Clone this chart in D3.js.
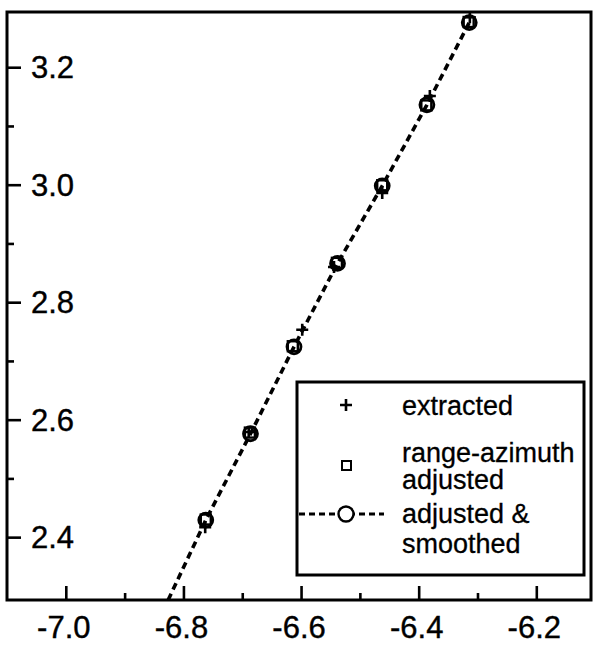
<!DOCTYPE html>
<html>
<head>
<meta charset="utf-8">
<script src="https://cdn.jsdelivr.net/npm/d3@7"></script>
<style>
  html, body { margin: 0; padding: 0; background: #fff; }
  svg { display: block; font-family: "Liberation Sans", Arial, Helvetica, sans-serif; }
</style>
</head>
<body>
<svg id="chart" width="594" height="645"></svg>
<script>
// ---- data ----
const extractedX = [-6.763, -6.689, -6.598, -6.544, -6.462, -6.381, -6.313];
const extractedY = [2.417, 2.579, 2.753, 2.860, 2.986, 3.151, 3.285];

const adjustedX = [-6.762, -6.687, -6.614, -6.539, -6.462, -6.387, -6.315];
const adjustedY = [2.430, 2.578, 2.725, 2.867, 2.999, 3.135, 3.277];

const smoothedX = [-6.762, -6.686, -6.612, -6.538, -6.462, -6.386, -6.314];
const smoothedY = [2.429, 2.576, 2.724, 2.866, 2.998, 3.136, 3.276];

// dashed line of the smoothed series, continuing to the bottom axis
const smoothedLineX = [-6.826, -6.762, -6.686, -6.612, -6.538, -6.462, -6.386, -6.314];
const smoothedLineY = [2.293, 2.429, 2.576, 2.724, 2.866, 2.998, 3.136, 3.276];

const xMajorTicks = [-7.0, -6.8, -6.6, -6.4, -6.2];
const xMinorTicks = [-6.9, -6.7, -6.5, -6.3];
const yMajorTicks = [2.4, 2.6, 2.8, 3.0, 3.2];
const yMinorTicks = [2.5, 2.7, 2.9, 3.1];
const xTickLabels = ["-7.0", "-6.8", "-6.6", "-6.4", "-6.2"];
const yTickLabels = ["2.4", "2.6", "2.8", "3.0", "3.2"];

const legendLabels = [["extracted"], ["range-azimuth", "adjusted"], ["adjusted &", "smoothed"]];

// ---- layout ----
const svg = d3.select("#chart");
const L = 7, R = 591, T = 12, B = 600;

const x = d3.scaleLinear().domain([-7.1, -6.107]).range([L, R]);
const y = d3.scaleLinear().domain([2.293, 3.294]).range([B, T]);

const zip = (a, b) => a.map((v, i) => [v, b[i]]);

svg.append("defs").append("clipPath").attr("id", "clip")
  .append("rect").attr("x", L).attr("y", T).attr("width", R - L).attr("height", B - T);

// frame
svg.append("rect")
  .attr("x", L).attr("y", T).attr("width", R - L).attr("height", B - T)
  .attr("fill", "none").attr("stroke", "#000").attr("stroke-width", 3);

// x ticks (inward) via d3 axis
const xAxisMajor = d3.axisTop(x).tickValues(xMajorTicks).tickSize(14).tickFormat("");
const xAxisMinor = d3.axisTop(x).tickValues(xMinorTicks).tickSize(7).tickFormat("");
[xAxisMajor, xAxisMinor].forEach(ax => {
  const g = svg.append("g").attr("transform", `translate(0,${B})`).call(ax);
  g.select(".domain").remove();
  g.selectAll("line").attr("stroke", "#000").attr("stroke-width", 2.6);
});
// x labels
svg.append("g").selectAll("text").data(xMajorTicks).join("text")
  .attr("x", d => x(d) - 2)
  .attr("y", 638)
  .attr("text-anchor", "middle")
  .attr("font-size", 31)
  .attr("fill", "#000").attr("stroke", "#000").attr("stroke-width", 0.4)
  .text((d, i) => xTickLabels[i]);

// y ticks (inward)
const yAxisMajor = d3.axisRight(y).tickValues(yMajorTicks).tickSize(14).tickFormat("");
const yAxisMinor = d3.axisRight(y).tickValues(yMinorTicks).tickSize(7).tickFormat("");
[yAxisMajor, yAxisMinor].forEach(ax => {
  const g = svg.append("g").attr("transform", `translate(${L},0)`).call(ax);
  g.select(".domain").remove();
  g.selectAll("line").attr("stroke", "#000").attr("stroke-width", 2.6);
});
// y labels (inside the plot)
svg.append("g").selectAll("text").data(yMajorTicks).join("text")
  .attr("x", 31)
  .attr("y", d => y(d))
  .attr("dy", "0.36em")
  .attr("text-anchor", "start")
  .attr("font-size", 31)
  .attr("fill", "#000").attr("stroke", "#000").attr("stroke-width", 0.4)
  .text((d, i) => yTickLabels[i]);

// dashed smoothed line
const line = d3.line().x(d => x(d[0])).y(d => y(d[1]));
svg.append("path")
  .attr("clip-path", "url(#clip)")
  .attr("d", line(zip(smoothedLineX, smoothedLineY)))
  .attr("fill", "none")
  .attr("stroke", "#000")
  .attr("stroke-width", 3.6)
  .attr("stroke-dasharray", "7,4.5");

// squares
svg.append("g").selectAll("rect").data(zip(adjustedX, adjustedY)).join("rect")
  .attr("x", d => x(d[0]) - 5).attr("y", d => y(d[1]) - 5)
  .attr("width", 10).attr("height", 10)
  .attr("fill", "none").attr("stroke", "#000").attr("stroke-width", 2.4);

// circles
svg.append("g").selectAll("circle").data(zip(smoothedX, smoothedY)).join("circle")
  .attr("cx", d => x(d[0])).attr("cy", d => y(d[1])).attr("r", 7)
  .attr("fill", "none").attr("stroke", "#000").attr("stroke-width", 2.8);

// crosses
const crossPath = (cx, cy, s) => `M${cx - s},${cy}H${cx + s}M${cx},${cy - s}V${cy + s}`;
svg.append("g").selectAll("path").data(zip(extractedX, extractedY)).join("path")
  .attr("d", d => crossPath(x(d[0]), y(d[1]), 6))
  .attr("fill", "none").attr("stroke", "#000").attr("stroke-width", 2.6);

// ---- legend ----
const lg = svg.append("g");
lg.append("rect")
  .attr("x", 297).attr("y", 382).attr("width", 287).attr("height", 193)
  .attr("fill", "#fff").attr("stroke", "#000").attr("stroke-width", 3);

const symX = 346, textX = 402;
// extracted
lg.append("path").attr("d", crossPath(symX, 405, 6))
  .attr("stroke", "#000").attr("stroke-width", 2.6).attr("fill", "none");
// range-azimuth adjusted
lg.append("rect").attr("x", symX - 4).attr("y", 461).attr("width", 9).attr("height", 9)
  .attr("fill", "none").attr("stroke", "#000").attr("stroke-width", 2);
// adjusted & smoothed
lg.append("line").attr("x1", 299).attr("x2", 384).attr("y1", 514).attr("y2", 514)
  .attr("stroke", "#000").attr("stroke-width", 3).attr("stroke-dasharray", "6,4");
lg.append("circle").attr("cx", symX).attr("cy", 514).attr("r", 7.5)
  .attr("fill", "#fff").attr("stroke", "#000").attr("stroke-width", 2.4);

const baselines = [[415], [462, 489], [523, 553]];
legendLabels.forEach((lines, i) => {
  lines.forEach((t, j) => {
    lg.append("text").attr("x", textX).attr("y", baselines[i][j])
      .attr("font-size", 27).attr("fill", "#000")
      .attr("stroke", "#000").attr("stroke-width", 0.3).text(t);
  });
});
</script>
</body>
</html>
